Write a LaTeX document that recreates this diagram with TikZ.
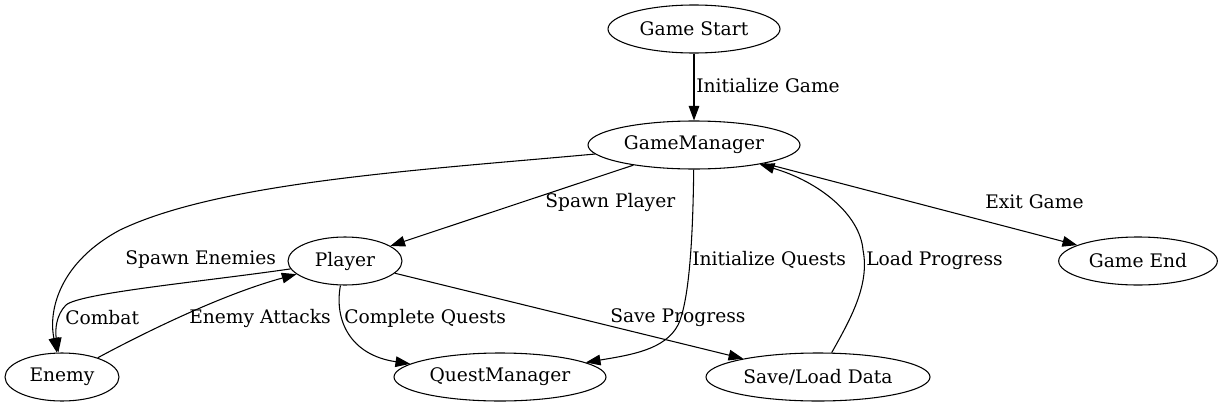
\documentclass[tikz,border=0pt]{standalone}
\usepackage{xcolor}
\usepackage{fontspec}
\setmainfont{DejaVu Serif}
\usepackage{tikz}
\usetikzlibrary{
	positioning,
	arrows.meta,
	shapes.geometric
}

\begin{document}
\begin{tikzpicture}[
	x=0.75pt,
	y=-0.75pt,
	every node/.style={font=\fontsize{14}{16}\selectfont},
	c_state/.style={
		ellipse,
		draw=black,
		line width=0.8pt,
		inner sep=0pt,
		minimum height=36pt
	},
	c_edge/.style={
		draw=black,
		line width=0.8pt,
		-{Triangle[length=11pt,width=8pt]}
	},
	c_label/.style={
		anchor=west,
		inner sep=0pt
	}
	]
			
			\useasboundingbox (0,0) rectangle (1223,407);
			
			% =========================================================================
			% STATES
			% =========================================================================
			
			\node[c_state,minimum width=129pt] (gstart) at (694,29) {Game Start};
			\node[c_state,minimum width=159pt] (gm) at (694,145) {GameManager};
			\node[c_state,minimum width=85.5pt] (player) at (345,261) {Player};
			\node[c_state,minimum width=119pt] (gend) at (1138,261) {Game End};
			\node[c_state,minimum width=85.5pt] (enemy) at (62,377) {Enemy};
			\node[c_state,minimum width=159pt] (quest) at (500,377) {QuestManager};
			\node[c_state,minimum width=168pt] (save) at (818,377) {Save/Load Data};
			
			% =========================================================================
			% TRANSITIONS
			% =========================================================================
			
			\draw[c_edge] (gstart) -- (gm);
			
			\draw[c_edge] (gm) .. controls (420,170) and (220,182) .. (120,230)
			.. controls (60,262) and (48,310) .. (enemy);
			
			\draw[c_edge] (gm) -- (player);
			
			\draw[c_edge] (gm) .. controls (693,230) and (690,300) .. (678,325)
			.. controls (665,350) and (630,355) .. (quest);
			
			\draw[c_edge] (save) .. controls (850,320) and (870,285) .. (863,250)
			.. controls (860,215) and (820,182) .. (gm);
			
			\draw[c_edge] (gm) -- (gend);
			
			\draw[c_edge] (player) .. controls (200,282) and (80,293) .. (66,305)
			.. controls (56,315) and (55,330) .. (enemy);
			
			\draw[c_edge] (enemy) .. controls (140,335) and (220,295) .. (player);
			
			\draw[c_edge] (player) .. controls (334,320) and (350,355) .. (quest);
			
			\draw[c_edge] (player) -- (save);
			
			% =========================================================================
			% LABELS
			% =========================================================================
			
			\node[c_label] (lInitGame) at (696,86) {Initialize Game};
			\node[c_label] (lSpawnPlayer) at (545,202) {Spawn Player};
			\node[c_label] (lExit) at (985,202) {Exit Game};
			\node[c_label] (lSpawnEnemies) at (125,260) {Spawn Enemies};
			\node[c_label] (lInitQuests) at (692,260) {Initialize Quests};
			\node[c_label] (lLoad) at (866,260) {Load Progress};
			\node[c_label] (lCombat) at (65,318) {Combat};
			\node[c_label] (lAttacks) at (189,318) {Enemy Attacks};
			\node[c_label] (lComplete) at (344,318) {Complete Quests};
			\node[c_label] (lSave) at (610,318) {Save Progress};
			
		\end{tikzpicture}
\end{document}
